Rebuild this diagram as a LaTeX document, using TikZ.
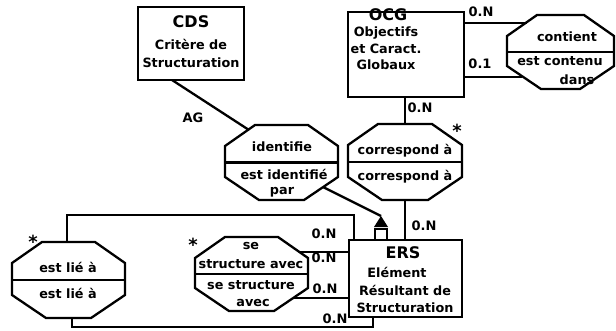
\documentclass[tikz,border=0pt]{standalone}
\usepackage{fontspec}
\setmainfont{DejaVu Sans}
\usetikzlibrary{calc}

% Octagonal relation frame drawn around an invisible rectangle node:
% #1 node, #2/#3 top chamfer (dx/dy), #4/#5 bottom chamfer (dx/dy)
\newcommand\relframe[5]{%
  \draw[outline] ([xshift=#2pt]#1.north west) -- ([xshift=-#2pt]#1.north east)
    -- ([yshift=-#3pt]#1.north east) -- ([yshift=#5pt]#1.south east)
    -- ([xshift=-#4pt]#1.south east) -- ([xshift=#4pt]#1.south west)
    -- ([yshift=#5pt]#1.south west) -- ([yshift=-#3pt]#1.north west) -- cycle;
  \draw[outline] (#1.west) -- (#1.east);}

\begin{document}
\begin{tikzpicture}[x=1pt,y=-1pt,
  outline/.style={line width=2.3pt, line join=miter},
  link/.style={line width=2.3pt},
  entity/.style={draw, line width=2.3pt, inner sep=0pt, outer sep=0pt},
  relbox/.style={inner sep=0pt, outer sep=0pt},
  txt/.style={font=\fontsize{12.8}{13}\selectfont\bfseries, inner sep=0pt},
  title/.style={font=\fontsize{16}{17}\selectfont\bfseries, inner sep=0pt},
  card/.style={font=\fontsize{13}{14}\selectfont\bfseries, inner sep=0pt},
  star/.style={font=\fontsize{18}{18}\selectfont\bfseries, inner sep=0pt}]
\useasboundingbox (0,0) rectangle (616,330);

% ---------- entities ----------
\node[entity, minimum width=106pt, minimum height=73pt] (cds) at (191,43.5) {};
\node[title] (cdsT) at (191,22) {CDS};
\node[txt] (cds1) at (191,44) {Critère de};
\node[txt] (cds2) at (191,63) {Structuration};

\node[entity, minimum width=116pt, minimum height=85pt] (ocg) at (406,54.5) {};
\node[title] (ocgT) at (388,15) {OCG};
\node[txt] (ocg1) at (386,33) {Objectifs};
\node[txt] (ocg2) at (386,49) {et Caract.};
\node[txt] (ocg3) at (386,65) {Globaux};

\node[entity, minimum width=113pt, minimum height=77pt] (ers) at (405.5,278.5) {};
\node[title] (ersT) at (403,253) {ERS};
\node[txt] (ers1) at (397,272) {Elément};
\node[txt] (ers2) at (405,290) {Résultant de};
\node[txt] (ers3) at (405,308) {Structuration};

% ---------- relations ----------
\node[relbox, minimum width=107pt, minimum height=74pt] (cont) at (560.5,52) {};
\relframe{cont}{30}{21}{34}{23}
\node[txt] (cont1) at (567,37) {contient};
\node[txt] (cont2) at (560,61) {est contenu};
\node[txt] (cont3) at (577,80) {dans};

\node[relbox, minimum width=114pt, minimum height=76pt] (corr) at (405,162) {};
\relframe{corr}{30}{21}{34}{23}
\node[txt] (corr1) at (405,151) {correspond à};
\node[txt] (corr2) at (405,177) {correspond à};
\node[star] (corrS) at (457,131) {*};

\node[relbox, minimum width=113pt, minimum height=75pt] (idf) at (281.5,162.5) {};
\relframe{idf}{30}{21}{34}{23}
\node[txt] (idf1) at (282,147) {identifie};
\node[txt] (idf2) at (284,174) {est identifié};
\node[txt] (idf3) at (282,192) {par};

\node[relbox, minimum width=113pt, minimum height=74pt] (sst) at (251.5,274) {};
\relframe{sst}{30}{21}{34}{23}
\node[txt] (sst1) at (251,246) {se};
\node[txt] (sst2) at (251,264) {structure avec};
\node[txt] (sst3) at (251,285) {se structure};
\node[txt] (sst4) at (253,303) {avec};
\node[star] (sstS) at (193,245) {*};

\node[relbox, minimum width=113pt, minimum height=76pt] (lie) at (68.5,280) {};
\relframe{lie}{30}{21}{34}{23}
\node[txt] (lie1) at (68,267) {est lié à};
\node[txt] (lie2) at (68,293) {est lié à};
\node[star] (lieS) at (33,242) {*};

% ---------- connector end points on slanted edges ----------
\coordinate (contUp) at (527,23);
\coordinate (contLo) at (521.8,77);
\coordinate (idfIn) at (249,130);
\coordinate (idfOut) at (323,187);
\coordinate (sstUp) at (300,252);
\coordinate (sstLo) at (293,298);
\coordinate (lieTop) at (67,242);
\coordinate (lieBot) at (72,318);
\coordinate (cdsOut) at (172,80);
\coordinate (subTip) at (381,216);

% ---------- connectors ----------
\draw[link] (ocg.east |- contUp) -- (contUp);
\draw[link] (ocg.east |- contLo) -- (contLo);
\draw[link] (ocg.south -| corr.north) -- (corr.north);
\draw[link] (corr.south) -- (ers.north -| corr.south);
\draw[link] (cdsOut) -- (idfIn);
\draw[link] (idfOut) -- (subTip);
\draw[link] (sstUp) -- (ers.west |- sstUp);
\draw[link] (sstLo) -- (ers.west |- sstLo);
\draw[link] (lieTop) -- (67,215) -- (354,215) -- (354,240);
\draw[link] (lieBot) -- (72,327) -- (373,327) -- (373,317);

% sub-type marker sitting on ERS
\fill (subTip) -- (388,227) -- (374,227) -- cycle;
\draw[line width=1.8pt] (375,229) rectangle (387,240);

% ---------- cardinalities ----------
\node[card] (c1) at (481,12) {0.N};
\node[card] (c2) at (480,64) {0.1};
\node[card] (c3) at (420,108) {0.N};
\node[card] (c4) at (424,226) {0.N};
\node[card] (c5) at (324,234) {0.N};
\node[card] (c6) at (324,258) {0.N};
\node[card] (c7) at (325,289) {0.N};
\node[card] (c8) at (335,319) {0.N};
\node[card] (ag) at (193,118) {AG};
\end{tikzpicture}
\end{document}
